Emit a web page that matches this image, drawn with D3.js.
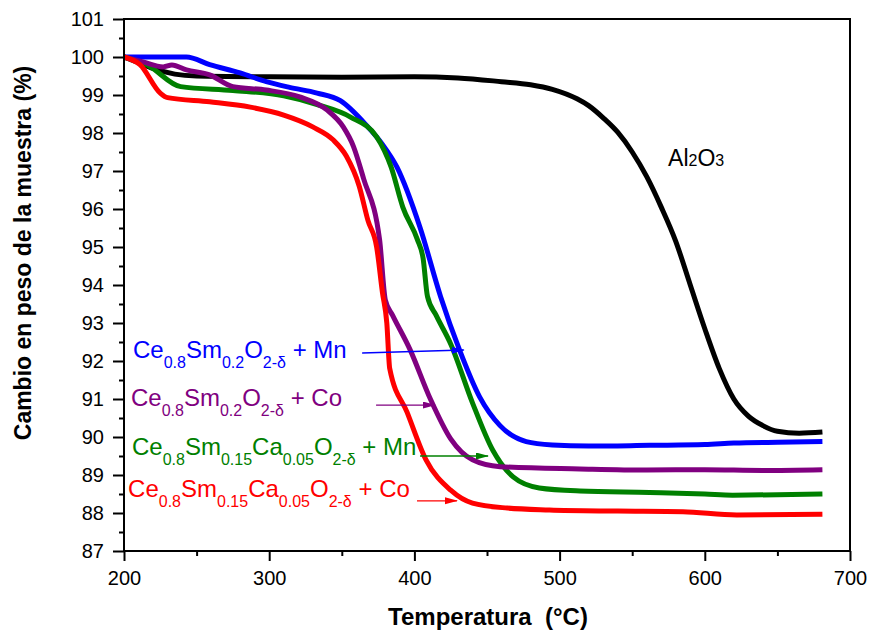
<!DOCTYPE html>
<html lang="en">
<head>
<meta charset="UTF-8">
<title>Cambio en peso vs temperatura</title>
<script src="https://d3js.org/d3.v7.min.js"></script>
<style>
  body { margin: 0; background: #fff; }
  text { font-family: "Liberation Sans", Arial, sans-serif; white-space: pre; }
</style>
</head>
<body>
<svg width="870" height="635"></svg>
<script>
// --- data (temperature in °C, weight in %) ---
const alT = [200, 210, 220, 235, 250, 300, 350, 400, 430, 460, 480, 495, 512, 520, 530, 540, 550, 560, 570, 580, 590, 600, 610, 620, 630, 640, 650, 665, 681];
const alV = [100, 99.85, 99.7, 99.55, 99.5, 99.48, 99.47, 99.48, 99.45, 99.35, 99.27, 99.15, 98.9, 98.72, 98.4, 98.02, 97.5, 96.85, 96.05, 95.15, 94.0, 92.85, 91.8, 91.0, 90.55, 90.3, 90.15, 90.1, 90.13];

const mnT = [200, 243, 259, 280, 298, 314, 333, 349, 367, 378, 388, 404, 418, 431, 445, 459, 477, 495, 520, 562, 600, 620, 650, 681];
const mnV = [100, 100, 99.8, 99.58, 99.35, 99.2, 99.05, 98.85, 98.2, 97.7, 97.1, 95.5, 93.7, 92.3, 91.05, 90.3, 89.88, 89.79, 89.76, 89.78, 89.8, 89.84, 89.86, 89.88];

const coT = [200, 213, 227, 233, 243, 259, 275, 298, 321, 340, 351, 358, 365, 376, 380, 385, 397, 411, 425, 440, 459, 514, 560, 600, 640, 681];
const coV = [100, 99.87, 99.74, 99.79, 99.66, 99.53, 99.22, 99.13, 98.95, 98.6, 98.16, 97.65, 96.8, 95.2, 93.6, 93.2, 92.3, 91.0, 89.95, 89.4, 89.22, 89.16, 89.13, 89.14, 89.12, 89.14];

const caMnT = [200, 216, 239, 275, 310, 333, 356, 374, 384, 392, 402, 406, 409, 415, 425, 440, 454, 468, 486, 514, 562, 600, 619, 650, 681];
const caMnV = [100, 99.79, 99.22, 99.12, 98.98, 98.75, 98.42, 97.9, 97.1, 96.05, 95.2, 94.7, 93.7, 93.2, 92.45, 90.9, 89.65, 88.95, 88.66, 88.58, 88.54, 88.5, 88.47, 88.48, 88.5];

const caCoT = [200, 211, 225, 230, 259, 287, 310, 330, 344, 353, 362, 368, 374, 378, 381, 383, 395, 408, 425, 440, 464, 493, 540, 585, 622, 681];
const caCoV = [100, 99.8, 99.05, 98.93, 98.82, 98.68, 98.47, 98.16, 97.82, 97.4, 96.6, 95.7, 95.0, 93.8, 93.0, 91.8, 90.65, 89.4, 88.6, 88.26, 88.13, 88.08, 88.05, 88.03, 87.95, 87.97];

const xTicks = [200, 300, 400, 500, 600, 700];
const xMinor = [250, 350, 450, 550, 650];
const yTicks = d3.range(87, 102, 1);
const yMinor = d3.range(87.5, 101, 1);

const series = [
  { name: "Al2O3", t: alT, v: alV, color: "#000000" },
  { name: "CeSm + Mn", t: mnT, v: mnV, color: "#0000ff" },
  { name: "CeSmCa + Mn", t: caMnT, v: caMnV, color: "#008000" },
  { name: "CeSm + Co", t: coT, v: coV, color: "#800080" },
  { name: "CeSmCa + Co", t: caCoT, v: caCoV, color: "#ff0000" }
];

// legend labels: pieces of text, second item marks a subscript
const labels = [
  { color: "#0000ff", at: [206.2, 92.08], arrow: [[364, 92.21], [434, 92.29]],
    parts: [["Ce"], ["0.8", 1], ["Sm"], ["0.2", 1], ["O"], ["2-δ", 1], [" + Mn"]] },
  { color: "#800080", at: [204.8, 90.82], arrow: [[373.6, 90.84], [414.2, 90.84]],
    parts: [["Ce"], ["0.8", 1], ["Sm"], ["0.2", 1], ["O"], ["2-δ", 1], [" + Co"]] },
  { color: "#008000", at: [205.5, 89.53], arrow: [[403.9, 89.5], [450.7, 89.5]],
    parts: [["Ce"], ["0.8", 1], ["Sm"], ["0.15", 1], ["Ca"], ["0.05", 1], ["O"], ["2-δ", 1], [" + Mn"]] },
  { color: "#ff0000", at: [202.8, 88.42], arrow: [[401.8, 88.32], [429.3, 88.32]],
    parts: [["Ce"], ["0.8", 1], ["Sm"], ["0.15", 1], ["Ca"], ["0.05", 1], ["O"], ["2-δ", 1], [" + Co"]] }
];

const width = 870, height = 635;
const margin = { top: 19, right: 20, bottom: 84, left: 124 };

const x = d3.scaleLinear().domain([200, 700]).range([margin.left, width - margin.right]);
const y = d3.scaleLinear().domain([87, 101]).range([height - margin.bottom, margin.top]);

const svg = d3.select("svg");

// arrow heads
const defs = svg.append("defs");
labels.forEach((d, i) => {
  defs.append("marker")
    .attr("id", "arr" + i)
    .attr("markerUnits", "userSpaceOnUse")
    .attr("markerWidth", 13).attr("markerHeight", 8)
    .attr("refX", 12).attr("refY", 3.5)
    .attr("orient", "auto")
    .append("path")
    .attr("d", "M0,0 L13,3.5 L0,7 Z")
    .attr("fill", d.color);
});

// axes
svg.append("g")
  .attr("transform", `translate(0,${y(87)})`)
  .call(d3.axisBottom(x).tickValues(xTicks).tickSize(10).tickPadding(10));
svg.append("g")
  .attr("transform", `translate(0,${y(87)})`)
  .call(d3.axisBottom(x).tickValues(xMinor).tickSize(5).tickFormat(""));
svg.append("g")
  .attr("transform", `translate(${x(200)},0)`)
  .call(d3.axisLeft(y).tickValues(yTicks).tickSize(11).tickPadding(9));
svg.append("g")
  .attr("transform", `translate(${x(200)},0)`)
  .call(d3.axisLeft(y).tickValues(yMinor).tickSize(5).tickFormat(""));

svg.selectAll(".domain").remove();
svg.selectAll(".tick line").attr("stroke", "#000").attr("stroke-width", 2);
svg.selectAll(".tick text").attr("font-size", 20).attr("fill", "#000")
  .style("font-family", '"Liberation Sans", Arial, sans-serif');

// curves
const line = d3.line()
  .x(d => x(d[0]))
  .y(d => y(d[1]))
  .curve(d3.curveMonotoneX);

svg.append("g")
  .selectAll("path")
  .data(series)
  .join("path")
  .attr("d", s => line(s.t.map((t, i) => [t, s.v[i]])))
  .attr("fill", "none")
  .attr("stroke", s => s.color)
  .attr("stroke-width", 5)
  .attr("stroke-linejoin", "round");

// frame
svg.append("rect")
  .attr("x", x(200)).attr("y", y(101))
  .attr("width", x(700) - x(200)).attr("height", y(87) - y(101))
  .attr("fill", "none").attr("stroke", "#000").attr("stroke-width", 2);

// legend labels with subscripts
labels.forEach((d, i) => {
  const txt = svg.append("text")
    .attr("x", x(d.at[0])).attr("y", y(d.at[1]))
    .attr("fill", d.color).attr("font-size", 24);
  let down = false;
  d.parts.forEach(p => {
    const sub = !!p[1];
    const ts = txt.append("tspan").text(p[0]);
    if (sub && !down) { ts.attr("dy", 10); down = true; }
    else if (!sub && down) { ts.attr("dy", -10); down = false; }
    if (sub) ts.attr("font-size", 16);
  });
  svg.append("line")
    .attr("x1", x(d.arrow[0][0])).attr("y1", y(d.arrow[0][1]))
    .attr("x2", x(d.arrow[1][0])).attr("y2", y(d.arrow[1][1]))
    .attr("stroke", d.color).attr("stroke-width", 1.3)
    .attr("marker-end", `url(#arr${i})`);
});

// Al2O3 label
const al = svg.append("text")
  .attr("x", x(574.7)).attr("y", y(97.13))
  .attr("font-size", 23).attr("fill", "#000");
al.append("tspan").text("Al");
al.append("tspan").text("2").attr("font-size", 16);
al.append("tspan").text("O");
al.append("tspan").text("3").attr("font-size", 16);

// axis titles
svg.append("text")
  .attr("x", (x(200) + x(700)) / 2 + 1).attr("y", 625)
  .attr("text-anchor", "middle")
  .attr("font-size", 24).attr("font-weight", "bold")
  .text("Temperatura  (°C)");

svg.append("text")
  .attr("transform", "translate(31,253) rotate(-90)")
  .attr("text-anchor", "middle")
  .attr("font-size", 23).attr("font-weight", "bold")
  .text("Cambio en peso de la muestra (%)");
</script>
</body>
</html>
